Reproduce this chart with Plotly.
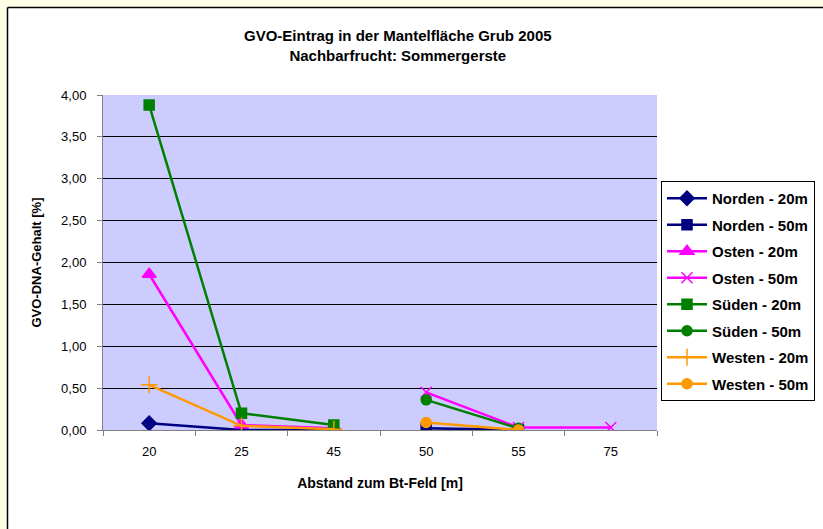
import plotly.graph_objects as go

categories = ["20", "25", "45", "50", "55", "75"]

norden_20 = [0.08, 0.00, 0.00, None, None, None]
norden_50 = [None, None, None, 0.02, 0.00, None]
osten_20 = [1.86, 0.06, 0.02, None, None, None]
osten_50 = [None, None, None, 0.45, 0.03, 0.03]
sueden_20 = [3.88, 0.20, 0.06, None, None, None]
sueden_50 = [None, None, None, 0.36, 0.02, None]
westen_20 = [0.54, 0.05, 0.01, None, None, None]
westen_50 = [None, None, None, 0.09, 0.00, None]

series = [
    ("Norden - 20m", norden_20, "#000080", "diamond", 11),
    ("Norden - 50m", norden_50, "#000080", "square", 10),
    ("Osten - 20m", osten_20, "#FF00FF", "triangle-up", 12),
    ("Osten - 50m", osten_50, "#FF00FF", "x-thin", 11),
    ("Süden - 20m", sueden_20, "#008000", "square", 10),
    ("Süden - 50m", sueden_50, "#008000", "circle", 10),
    ("Westen - 20m", westen_20, "#FF9900", "cross-thin", 12),
    ("Westen - 50m", westen_50, "#FF9900", "circle", 10),
]

fig = go.Figure()
for i, (name, vals, col, sym, sz) in enumerate(series):
    fig.add_trace(go.Scatter(
        x=categories, y=vals, name=name, mode="lines+markers",
        connectgaps=False, legendgroup=f"g{i}",
        line=dict(color=col, width=2.5),
        marker=dict(symbol=sym, size=sz, color=col,
                    line=dict(color=col, width=1.5)),
    ))

W, H = 823, 529
L, R, T, B = 103, 657, 95, 430
pw, ph = R - L, B - T

def px_x(p):
    return (p - L) / pw

def px_y(p):
    return 1 - (p - T) / ph

shapes = [
    dict(type="rect", xref="paper", yref="paper", x0=px_x(-5), x1=px_x(7), y0=px_y(540), y1=px_y(-5),
         fillcolor="#FFFFE8", line=dict(width=0), layer="below"),
    dict(type="rect", xref="paper", yref="paper", x0=px_x(-5), x1=px_x(830), y0=px_y(7), y1=px_y(-5),
         fillcolor="#FFFFE8", line=dict(width=0), layer="below"),
    dict(type="line", xref="paper", yref="paper", x0=px_x(7.5), x1=px_x(830), y0=px_y(7.5), y1=px_y(7.5),
         line=dict(color="black", width=1.5)),
    dict(type="line", xref="paper", yref="paper", x0=px_x(7.5), x1=px_x(7.5), y0=px_y(7.5), y1=px_y(540),
         line=dict(color="black", width=1.5)),
]

fig.update_layout(
    width=W, height=H,
    margin=dict(l=L, r=W - R, t=T, b=H - B, autoexpand=False),
    paper_bgcolor="white",
    plot_bgcolor="#CCCCFF",
    separators=",.",
    font=dict(family="Liberation Sans, Arial, sans-serif", color="black", size=13),
    showlegend=True,
    legend=dict(
        x=px_x(661), y=px_y(181), xanchor="left", yanchor="top",
        bgcolor="white", bordercolor="black", borderwidth=1,
        font=dict(size=15, weight="bold"),
        tracegroupgap=4, itemwidth=40,
    ),
    shapes=shapes,
    annotations=[dict(
        text="GVO-Eintrag in der Mantelfläche Grub 2005<br>Nachbarfrucht: Sommergerste",
        xref="paper", yref="paper", x=px_x(398), y=px_y(45),
        xanchor="center", yanchor="middle", showarrow=False,
        font=dict(size=15, weight="bold"),
    )],
)

fig.update_xaxes(
    type="category", categoryorder="array", categoryarray=categories,
    range=[-0.5, 5.5],
    tickson="boundaries", ticks="outside", ticklen=5, tickcolor="#808080",
    ticklabelstandoff=9,
    showline=True, linecolor="#808080", linewidth=1,
    showgrid=False, tickfont=dict(size=13),
    title=dict(text="Abstand zum Bt-Feld [m]", font=dict(size=14, weight="bold"), standoff=20),
)
fig.update_yaxes(
    range=[0, 4], dtick=0.5, tickformat=".2f",
    ticks="outside", ticklen=5, tickcolor="#808080",
    ticklabelstandoff=8,
    showline=True, linecolor="#808080", linewidth=1,
    showgrid=True, gridcolor="black", gridwidth=1,
    zeroline=False, tickfont=dict(size=13),
    title=dict(text="GVO-DNA-Gehalt [%]", font=dict(size=13, weight="bold"), standoff=16),
)

fig.write_html("out.html", config={"displayModeBar": False},
               post_script="document.body.style.margin='0';document.body.style.padding='0';")
